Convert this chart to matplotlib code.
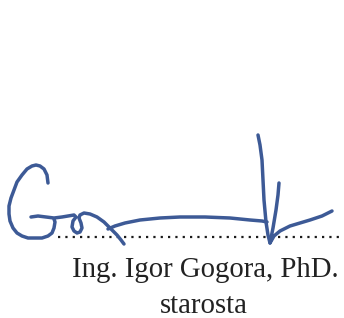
import matplotlib
matplotlib.use("Agg")
import matplotlib.pyplot as plt

# Signature strokes (pixel coordinates of the reference, y downward)
g_x = [48, 47, 44, 40, 36, 32, 27, 22, 17, 14, 11, 9, 9, 10, 13, 17, 22, 28, 35, 42, 48, 52, 54, 55, 54]
g_y = [183, 175, 169, 166, 165, 166, 169, 175, 182, 190, 198, 206, 214, 221, 228, 233, 236, 238, 238, 238, 236, 233, 228, 222, 219]

bar_x = [31, 38, 46, 54, 62, 68, 74, 76, 73, 72, 74, 77, 80, 82, 81, 79, 80, 84, 90, 97, 104, 111, 117, 121, 124]
bar_y = [217, 216, 217, 218, 217, 216, 215, 217, 221, 227, 231, 233, 232, 228, 223, 218, 215, 213, 214, 217, 222, 229, 235, 240, 244]

hor_x = [108, 115, 125, 140, 160, 180, 205, 230, 250, 262, 267]
hor_y = [229, 226, 223, 220, 218, 217, 217, 218, 220, 221, 222]

v1_x = [258, 260, 262, 263, 264, 266, 268, 270]
v1_y = [135, 145, 160, 180, 200, 222, 235, 243]

v2_x = [279, 278, 276, 273, 270, 274, 280, 290, 300, 310, 322, 332]
v2_y = [183, 195, 210, 228, 243, 236, 231, 226, 223, 220, 216, 211]

strokes = [(g_x, g_y), (bar_x, bar_y), (hor_x, hor_y), (v1_x, v1_y), (v2_x, v2_y)]

line_x = [58, 340]
line_y = [237, 237]

name_text = "Ing. Igor Gogora, PhD."
title_text = "starosta"

fig = plt.figure(figsize=(3.44, 3.18), dpi=100)
ax = fig.add_axes([0, 0, 1, 1])
ax.set_xlim(0, 344)
ax.set_ylim(318, 0)
ax.axis("off")

ax.plot(line_x, line_y, color="#1a1a1a", lw=1.6, linestyle=(0, (1, 2.3)))

for sx, sy in strokes:
    ax.plot(sx, sy, color="#3d5a96", lw=2.5, solid_joinstyle="round",
            solid_capstyle="round")

ax.text(205.5, 277, name_text, ha="center", va="baseline",
        fontfamily="Liberation Serif", fontsize=20.7, color="#222222")
ax.text(203.5, 313, title_text, ha="center", va="baseline",
        fontfamily="Liberation Serif", fontsize=20.8, color="#222222")

fig.savefig("out.png", dpi=100, facecolor="white")
